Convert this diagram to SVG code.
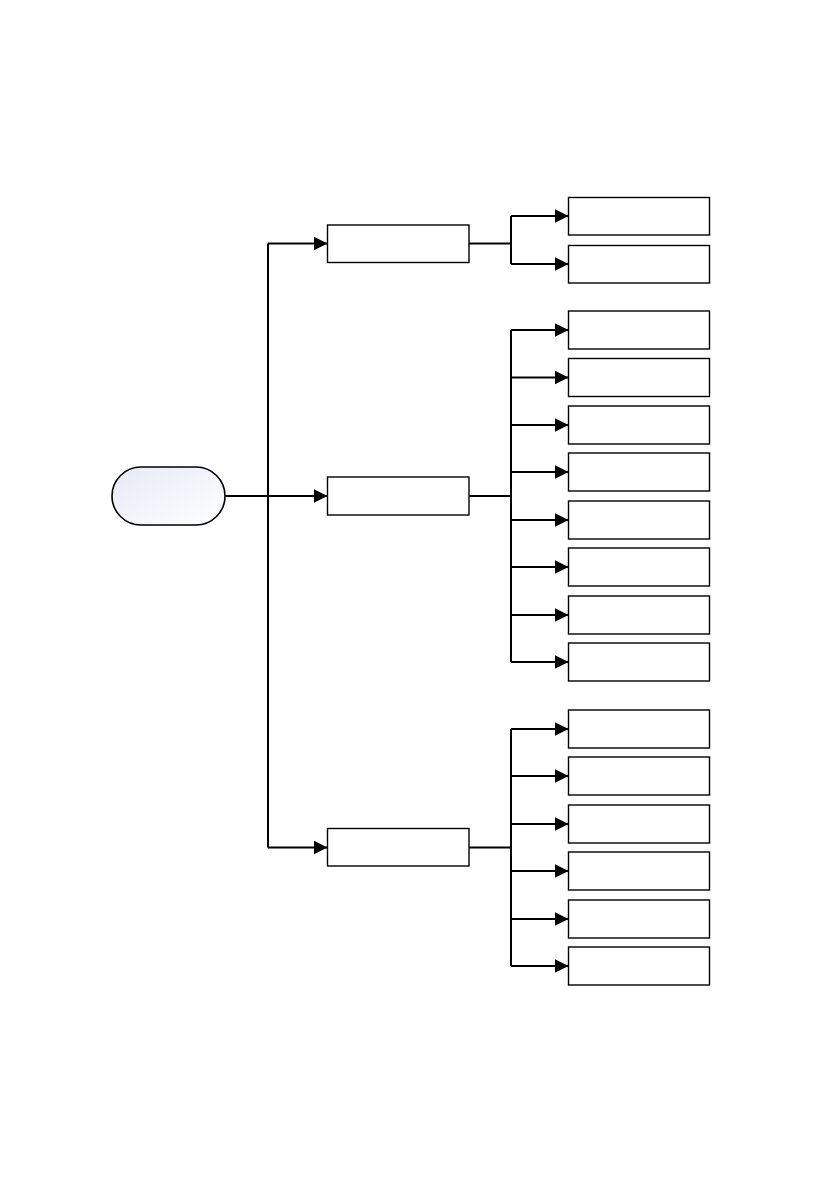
<svg xmlns="http://www.w3.org/2000/svg" width="840" height="1191" viewBox="0 0 840 1191">
<defs>
<linearGradient id="g" x1="0" y1="0" x2="1" y2="1">
<stop offset="0" stop-color="#e6eaf6"/>
<stop offset="1" stop-color="#ffffff"/>
</linearGradient>
<marker id="a" markerUnits="userSpaceOnUse" markerWidth="16" markerHeight="14" refX="14" refY="7" orient="auto">
<path d="M0,0 L14,7 L0,14 Z" fill="#000"/>
</marker>
<style>
.b{fill:#fff;stroke:#000;stroke-width:1.4}
.c{fill:none;stroke:#000;stroke-width:2}
.e{fill:none;stroke:#000;stroke-width:2;marker-end:url(#a)}
</style>
</defs>
<rect width="840" height="1191" fill="#fff"/>
<g id="connectors">
<path class="c" d="M225,496 H268"/>
<path class="c" d="M268,243.5 V847.5"/>
<path class="e" d="M268,243.5 H327.5"/>
<path class="e" d="M268,496 H327.5"/>
<path class="e" d="M268,847.5 H327.5"/>
<path class="c" d="M469,243.5 H511 M511,216 V264"/>
<path class="e" d="M511,216 H568.5"/>
<path class="e" d="M511,264 H568.5"/>
<path class="c" d="M469,496 H511 M511,330 V662"/>
<path class="e" d="M511,330 H568.5"/>
<path class="e" d="M511,377.5 H568.5"/>
<path class="e" d="M511,425 H568.5"/>
<path class="e" d="M511,472 H568.5"/>
<path class="e" d="M511,520 H568.5"/>
<path class="e" d="M511,567 H568.5"/>
<path class="e" d="M511,615 H568.5"/>
<path class="e" d="M511,662 H568.5"/>
<path class="c" d="M469,847.5 H511 M511,729 V966"/>
<path class="e" d="M511,729 H568.5"/>
<path class="e" d="M511,776 H568.5"/>
<path class="e" d="M511,824 H568.5"/>
<path class="e" d="M511,871 H568.5"/>
<path class="e" d="M511,919 H568.5"/>
<path class="e" d="M511,966 H568.5"/>
</g>
<g id="root"><rect x="112" y="467" width="113" height="58" rx="29" ry="29" fill="url(#g)" stroke="#000" stroke-width="1.6"/></g>
<g id="n1"><rect class="b" x="327.5" y="225" width="141.5" height="37.5"/></g>
<g id="n2"><rect class="b" x="327.5" y="477" width="141.5" height="38"/></g>
<g id="n3"><rect class="b" x="327.5" y="828.5" width="141.5" height="37.5"/></g>
<g id="l1"><rect class="b" x="568.5" y="197.5" width="141" height="37.5"/></g>
<g id="l2"><rect class="b" x="568.5" y="245.5" width="141" height="37.5"/></g>
<g id="l3"><rect class="b" x="568.5" y="311" width="141" height="38"/></g>
<g id="l4"><rect class="b" x="568.5" y="358.5" width="141" height="38"/></g>
<g id="l5"><rect class="b" x="568.5" y="406" width="141" height="38"/></g>
<g id="l6"><rect class="b" x="568.5" y="453" width="141" height="38"/></g>
<g id="l7"><rect class="b" x="568.5" y="501" width="141" height="38"/></g>
<g id="l8"><rect class="b" x="568.5" y="548" width="141" height="38"/></g>
<g id="l9"><rect class="b" x="568.5" y="596" width="141" height="38"/></g>
<g id="l10"><rect class="b" x="568.5" y="643" width="141" height="38"/></g>
<g id="l11"><rect class="b" x="568.5" y="710" width="141" height="38"/></g>
<g id="l12"><rect class="b" x="568.5" y="757" width="141" height="38"/></g>
<g id="l13"><rect class="b" x="568.5" y="805" width="141" height="38"/></g>
<g id="l14"><rect class="b" x="568.5" y="852" width="141" height="38"/></g>
<g id="l15"><rect class="b" x="568.5" y="900" width="141" height="38"/></g>
<g id="l16"><rect class="b" x="568.5" y="947" width="141" height="38"/></g>
</svg>
